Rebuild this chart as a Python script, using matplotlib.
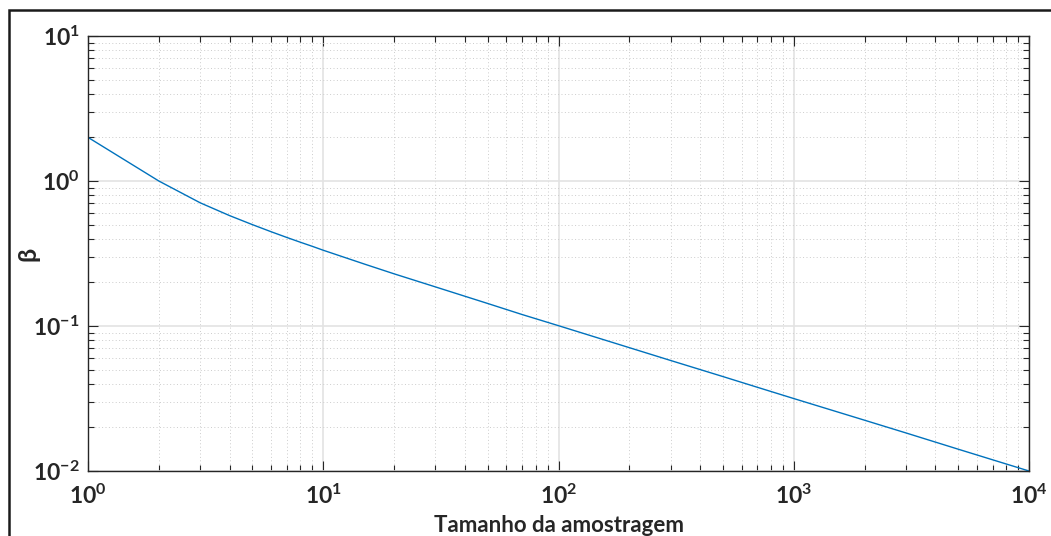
import matplotlib
matplotlib.use("Agg")
import matplotlib.pyplot as plt
from matplotlib.patches import Rectangle
from matplotlib.ticker import LogLocator, NullFormatter

# Data
sample_size = [1, 2, 3, 4, 5, 6, 7, 8, 9, 10, 15, 20, 30, 50, 70, 100,
               200, 300, 500, 700, 1000, 2000, 3000, 5000, 7000, 10000]
beta = [2.0, 1.0, 0.707, 0.577, 0.5, 0.447, 0.408, 0.378, 0.354, 0.333,
        0.267, 0.229, 0.186, 0.143, 0.120, 0.1005,
        0.0709, 0.0578, 0.0448, 0.0378, 0.0316, 0.0224, 0.0183, 0.01414,
        0.01195, 0.0100]

x_ticks = [1, 10, 100, 1000, 10000]
x_ticklabels = [r'$10^{0}$', r'$10^{1}$', r'$10^{2}$', r'$10^{3}$', r'$10^{4}$']
y_ticks = [0.01, 0.1, 1, 10]
y_ticklabels = [r'$10^{-2}$', r'$10^{-1}$', r'$10^{0}$', r'$10^{1}$']
x_label = 'Tamanho da amostragem'
y_label = 'β'

plt.rcParams['mathtext.fontset'] = 'custom'
plt.rcParams['mathtext.bf'] = 'Lato:bold'
plt.rcParams['mathtext.rm'] = 'Lato:bold'
plt.rcParams['mathtext.it'] = 'Lato:bold'
plt.rcParams['mathtext.default'] = 'bf'
plt.rcParams['font.family'] = ['Lato', 'Open Sans', 'DejaVu Sans']
plt.rcParams['font.weight'] = 'bold'

W, H = 1051, 536
fig = plt.figure(figsize=(W / 100, H / 100), dpi=100)
fig.patch.set_facecolor('white')

# outer frame (only top and left visible in the reference)
fig.patches.append(Rectangle((8.5 / W, -0.2), 1.5, 1 - 10 / H + 0.2,
                             transform=fig.transFigure, fill=False,
                             edgecolor='#1a1a1a', lw=1.8))

ax = fig.add_axes([88 / W, 1 - 471 / H, (1029 - 88) / W, (471 - 36) / H])
ax.plot(sample_size, beta, color='#0072BD', lw=1.0)
ax.set_xscale('log')
ax.set_yscale('log')
ax.set_xlim(1, 10000)
ax.set_ylim(0.01, 10)

ax.set_xticks(x_ticks)
ax.set_xticklabels(x_ticklabels)
ax.set_yticks(y_ticks)
ax.set_yticklabels(y_ticklabels)
ax.xaxis.set_minor_locator(LogLocator(base=10, subs=range(2, 10), numticks=20))
ax.yaxis.set_minor_locator(LogLocator(base=10, subs=range(2, 10), numticks=20))
ax.xaxis.set_minor_formatter(NullFormatter())
ax.yaxis.set_minor_formatter(NullFormatter())

ax.tick_params(which='both', direction='in', top=True, right=True,
               colors='#262626', labelcolor='#262626', width=0.8)
ax.tick_params(which='major', length=7, labelsize=16.5)
ax.tick_params(which='minor', length=4)
ax.tick_params(axis='x', which='major', pad=9)
ax.tick_params(axis='y', which='major', pad=6)

ax.grid(True, which='major', color='#e3e3e3', lw=1.2, ls='-')
ax.grid(True, which='minor', color='#cccccc', lw=0.7, ls=(0, (1, 2.5)))
ax.set_axisbelow(True)
for s in ax.spines.values():
    s.set_color('#262626')
    s.set_linewidth(1.0)

ax.set_xlabel(x_label, fontsize=16, fontweight='bold', color='#262626')
ax.set_ylabel(y_label, fontsize=18, fontweight='bold', color='#262626')
ax.xaxis.set_label_coords(0.5, (471 - 515) / 435)
ax.yaxis.set_label_coords((28 - 88) / 941, 0.5)
ax.yaxis.label.set_va('center')

fig.savefig('out.png', dpi=100)
